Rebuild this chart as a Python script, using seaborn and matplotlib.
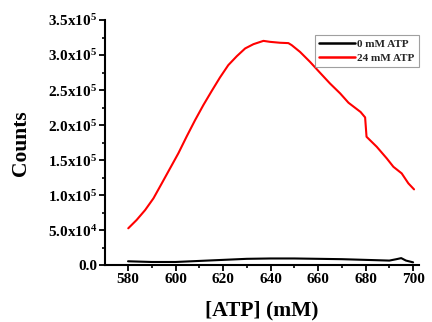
import numpy as np
import pandas as pd
import matplotlib
matplotlib.use("Agg")
import matplotlib.pyplot as plt
import seaborn as sns
from matplotlib.ticker import MultipleLocator, FuncFormatter

sns.set_theme(style="ticks")
plt.rcParams['font.family'] = ['Liberation Serif', 'DejaVu Serif']
plt.rcParams['font.weight'] = 'bold'
plt.rcParams['mathtext.fontset'] = 'custom'
plt.rcParams['mathtext.rm'] = 'Liberation Serif:bold'
plt.rcParams['mathtext.bf'] = 'Liberation Serif:bold'
plt.rcParams['mathtext.it'] = 'Liberation Serif:bold'

# Data
x_red = [580.1, 583.6, 587.2, 590.7, 594.2, 597.7, 601.2, 604.7, 608.2, 611.7,
         615.2, 618.7, 622.2, 625.8, 629.3, 632.8, 637.0, 639.8, 644.0, 647.5, 648.9,
         652.4, 656.6, 660.8, 665.0, 669.3, 672.8, 677.9, 679.8, 680.4, 684.7, 688.9,
         691.7, 695.2, 698.0, 700.4]
y_red = [53000, 64800, 79000, 95700, 117000, 138500, 160000, 184000, 207000, 228600,
         248600, 268000, 285600, 298400, 309400, 315500, 320200, 318800, 317500, 317000, 314100,
         304500, 290300, 274800, 259500, 245300, 232000, 218800, 211100, 183500, 169200, 152700,
         140700, 131300, 117100, 108500]
x_black = [580, 590, 600, 610, 620, 630, 640, 650, 660, 670, 680, 690, 693, 695, 697, 700]
y_black = [6000, 5000, 5000, 6500, 8000, 9500, 10000, 10000, 9500, 9000, 8000, 7000, 9000,
           10500, 7000, 4500]
series_names = ["0 mM ATP", "24 mM ATP"]
colors = ["#000000", "#ff0000"]
xticks = [580, 600, 620, 640, 660, 680, 700]

df = pd.concat([
    pd.DataFrame({"x": x_black, "y": y_black, "s": series_names[0]}),
    pd.DataFrame({"x": x_red, "y": y_red, "s": series_names[1]}),
])

fig = plt.figure(figsize=(4.32, 3.22), dpi=100)
ax = fig.add_axes([0.243, 0.1755, 0.727, 0.7625])
sns.lineplot(data=df, x="x", y="y", hue="s", palette=dict(zip(series_names, colors)),
             linewidth=1.5, ax=ax, estimator=None, sort=False)

ax.set_xlim(570.3, 702.5)
ax.set_ylim(0, 3.5e5)
sns.despine(ax=ax)
for sp in ["left", "bottom"]:
    ax.spines[sp].set_linewidth(1.5)
    ax.spines[sp].set_color("black")

ax.set_xticks(xticks)
ax.xaxis.set_minor_locator(MultipleLocator(10))
ax.yaxis.set_major_locator(MultipleLocator(5e4))
ax.yaxis.set_minor_locator(MultipleLocator(2.5e4))

def fmt(v, pos):
    if abs(v) < 1:
        return "0.0"
    if v < 0:
        return ""
    e = int(np.floor(np.log10(v)))
    m = v / 10 ** e
    return r"$\mathrm{%.1fx10^{%d}}$" % (m, e)

ax.yaxis.set_major_formatter(FuncFormatter(fmt))
ax.tick_params(axis="both", which="major", direction="out", length=4, width=1.3,
               labelsize=11, color="black", labelcolor="black", pad=1.5)
ax.tick_params(axis="both", which="minor", direction="out", length=2.5, width=1.2, color="black")
for lab in ax.get_xticklabels() + ax.get_yticklabels():
    lab.set_fontweight("bold")

ax.set_xlabel("[ATP] (mM)", fontsize=15.5, fontweight="bold", labelpad=10, color="black")
ax.set_ylabel("Counts", fontsize=15.5, fontweight="bold", labelpad=12, color="black")

leg = ax.legend(loc="upper right", bbox_to_anchor=(1.0, 0.94), frameon=True, fancybox=False,
                prop={"family": "Liberation Serif", "weight": "bold", "size": 8},
                handlelength=3.2, borderpad=0.4, labelspacing=0.35, handletextpad=0.2,
                borderaxespad=0.0)
leg.get_frame().set_edgecolor("#888888")
leg.get_frame().set_linewidth(0.8)
for h in leg.get_lines():
    h.set_linewidth(1.8)

fig.savefig("out.png", dpi=100)
